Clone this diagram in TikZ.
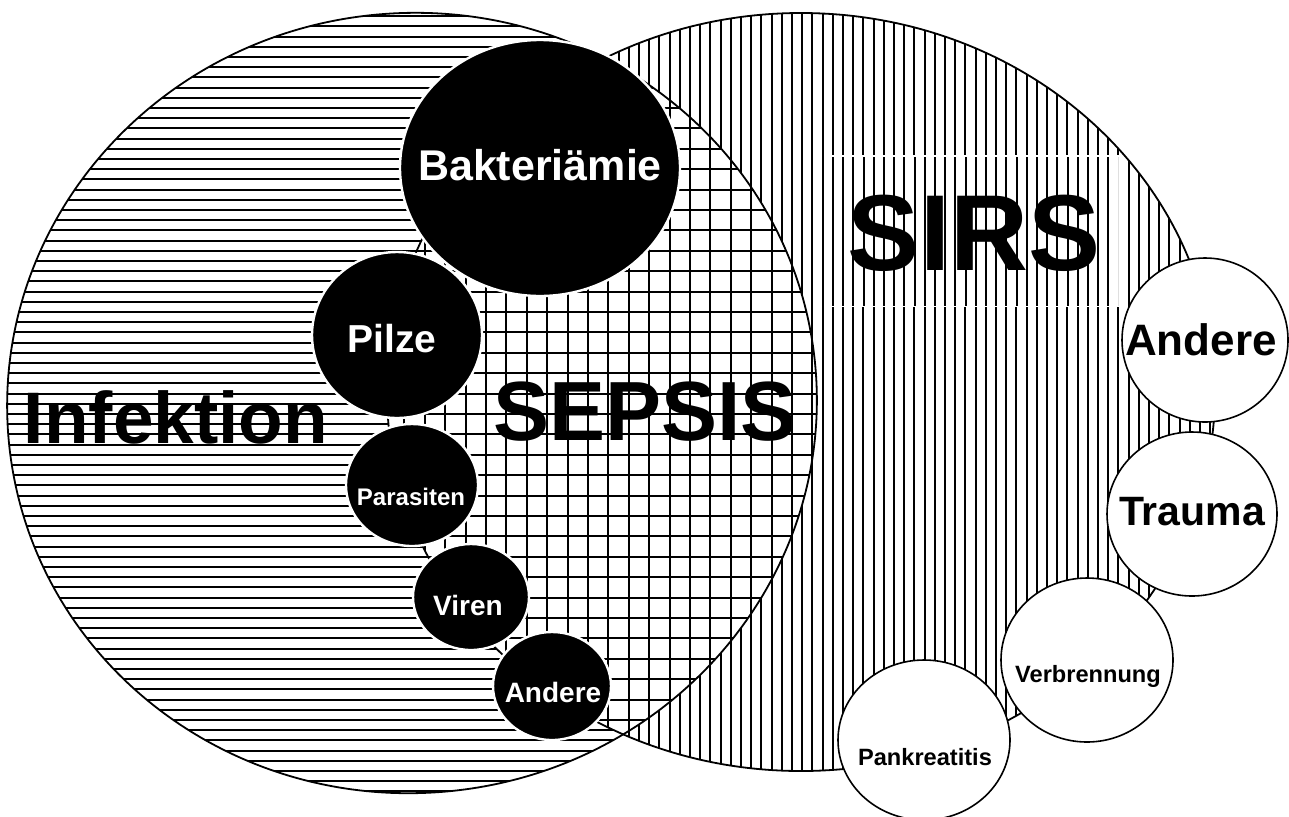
\documentclass[tikz,border=0pt]{standalone}
\usepackage{fontspec}
\setmainfont{Liberation Sans}
\usetikzlibrary{shapes.geometric}
\tikzset{
  hatchline/.style={line width=1.0pt, black},
  outline/.style={line width=0.9pt, black},
  infcirc/.style={ellipse, fill=black, draw=white, line width=1.2pt, inner sep=0pt},
  sirscirc/.style={ellipse, fill=white, draw=black, line width=0.8pt, inner sep=0pt},
  lbl/.style={anchor=base, inner sep=0pt, font=\bfseries\fontsize{#1}{#1}\selectfont},
  infl/.style={lbl=#1, text=white},
  rotL/.style={rotate around={6:(412,403)}},
}
\newcommand{\Lpath}{(412,403) ellipse [x radius=405, y radius=390]}
\newcommand{\Rpath}{(801,392) ellipse [x radius=414, y radius=379]}
\begin{document}
\begin{tikzpicture}[x=0.5pt,y=-0.5pt]
\useasboundingbox (0,0) rectangle (1289,816);
% left region: horizontal hatching
\begin{scope}
  \clip[rotL] \Lpath;
  \foreach \y in {6,16.2,...,810} \draw[hatchline] (0,\y) -- (840,\y);
\end{scope}
% right region: vertical hatching
\begin{scope}
  \clip \Rpath;
  \fill[white] (380,0) rectangle (1220,816);
  \foreach \x in {384,394.2,...,1220} \draw[hatchline] (\x,0) -- (\x,800);
\end{scope}
% intersection: grid
\begin{scope}
  \clip[rotL] \Lpath;
  \clip \Rpath;
  \fill[white] (380,0) rectangle (840,816);
  \foreach \x in {384,404.4,...,840} \draw[hatchline] (\x,0) -- (\x,800);
  \foreach \y in {6,26.4,...,810} \draw[hatchline] (380,\y) -- (840,\y);
\end{scope}
% outlines
\draw[outline, rotL] \Lpath;
\draw[outline] \Rpath;
% SIRS text frame
\fill[white] (828,155) rectangle (1120,307);
\begin{scope}
  \clip (830,157) rectangle (1118,305);
  \foreach \x in {833,843.2,...,1120} \draw[hatchline] (\x,150) -- (\x,310);
\end{scope}
% infection circles
\node[infcirc, minimum width=140pt, minimum height=128pt] (bakt) at (540,168) {};
\node[infcirc, minimum width=85pt, minimum height=83pt] (pilze) at (397,335) {};
\node[infcirc, minimum width=66pt, minimum height=61pt] (para) at (412,485) {};
\node[infcirc, minimum width=58pt, minimum height=53pt] (viren) at (471,597) {};
\node[infcirc, minimum width=59pt, minimum height=54pt] (andI) at (552,686) {};
% SIRS circles
\node[sirscirc, minimum width=83pt, minimum height=82pt] (andS) at (1205,340) {};
\node[sirscirc, minimum width=85pt, minimum height=82pt] (trauma) at (1192,514) {};
\node[sirscirc, minimum width=86pt, minimum height=82pt] (verb) at (1087,660) {};
\node[sirscirc, minimum width=86pt, minimum height=80pt] (pank) at (924,740) {};
% labels
\node[infl=21.5] (baktT) at (540,180) {Bakteriämie};
\node[infl=19.5] (pilzeT) at (392,352) {Pilze};
\node[infl=12] (paraT) at (411,505) {Parasiten};
\node[infl=14] (virenT) at (468,615) {Viren};
\node[infl=14] (andIT) at (553,702) {Andere};
\node[lbl=36.5] (infT) at (176,443) {Infektion};
\node[lbl=42] (sepT) at (645,440) {SEPSIS};
\node[lbl=54] (sirsT) at (974,270) {SIRS};
\node[lbl=22] (andST) at (1201,355) {Andere};
\node[lbl=20.5] (traumaT) at (1192,525) {Trauma};
\node[lbl=11.8] (verbT) at (1088,682) {Verbrennung};
\node[lbl=11.8] (pankT) at (925,765) {Pankreatitis};
\end{tikzpicture}
\end{document}
